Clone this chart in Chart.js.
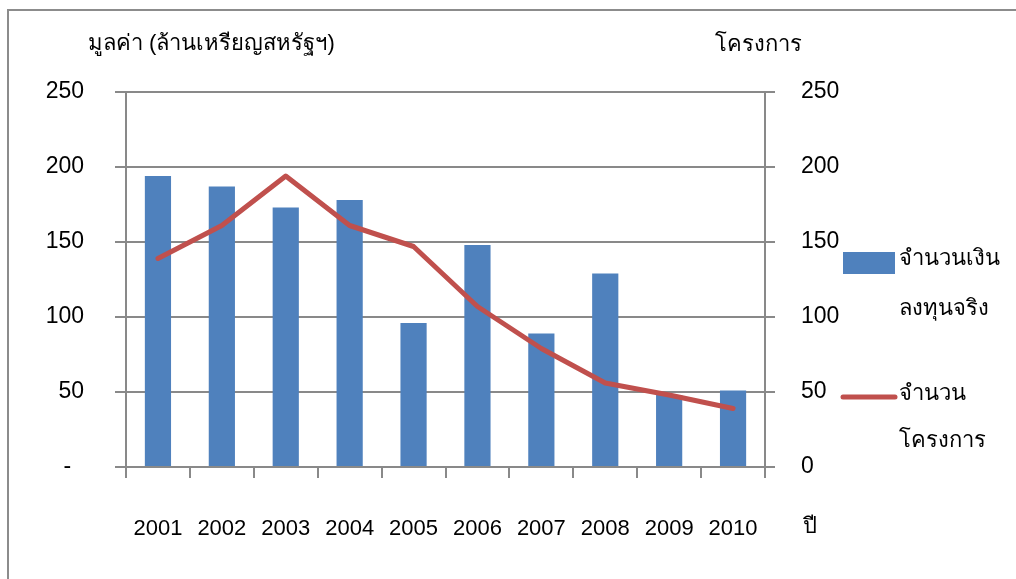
<!DOCTYPE html>
<html lang="th">
<head>
  <meta charset="UTF-8" />
  <title>มูลค่าการลงทุนและจำนวนโครงการ</title>
  <style>
    body {
      margin: 0;
      background: #fff;
      overflow: hidden;
    }

    .frame {
      position: absolute;
      left: 7px;
      top: 9px;
      width: 1100px;
      height: 700px;
      border: 2px solid #8c8c8c;
    }

    .wrap {
      position: absolute;
      left: 0;
      top: 0;
      width: 1016px;
      height: 579px;
    }
  </style>
</head>
<body>
  <div class="frame"></div>
  <div class="wrap"><canvas id="chart" width="1016" height="579"></canvas></div>

  <script src="https://cdn.jsdelivr.net/npm/chart.js"></script>
  <script>
    const years = ['2001', '2002', '2003', '2004', '2005', '2006', '2007', '2008', '2009', '2010'];
    const investValues = [194, 187, 173, 178, 96, 148, 89, 129, 48, 51];
    const projectCounts = [139, 161, 194, 161, 147, 107, 79, 56, 48, 39];
    const yTicks = [0, 50, 100, 150, 200, 250];

    const investLabel = ['จำนวนเงิน', 'ลงทุนจริง'];
    const projectLabel = ['จำนวน', 'โครงการ'];
    const leftTitle = 'มูลค่า (ล้านเหรียญสหรัฐฯ)';
    const rightTitle = 'โครงการ';
    const xTitle = 'ปี';

    const FONT = '"Liberation Sans", Arial, sans-serif';
    const axisGray = '#898989';

    // titles and the two-line legend are drawn by hand
    const extras = {
      id: 'extras',
      afterDraw(chart) {
        const c = chart.ctx;
        c.save();
        c.fillStyle = '#000';
        c.font = '22px ' + FONT;
        c.textBaseline = 'middle';
        c.textAlign = 'left';
        c.fillText(leftTitle, 88, 44);
        c.fillText(rightTitle, 715, 45);
        c.fillText(xTitle, 803, 527);

        // legend
        const bars = chart.data.datasets.find((d) => d.type === 'bar');
        const line = chart.data.datasets.find((d) => d.type === 'line');
        c.fillStyle = bars.backgroundColor;
        c.fillRect(843, 252, 52, 22);
        c.strokeStyle = line.borderColor;
        c.lineWidth = 5;
        c.lineCap = 'round';
        c.beginPath();
        c.moveTo(843, 397);
        c.lineTo(895, 397);
        c.stroke();

        c.fillStyle = '#000';
        bars.label.forEach((t, i) => c.fillText(t, 899, 259 + i * 50));
        line.label.forEach((t, i) => c.fillText(t, 899, 394 + i * 47));
        c.restore();
      }
    };

    new Chart(document.getElementById('chart'), {
      data: {
        labels: years,
        datasets: [
          {
            type: 'line',
            label: projectLabel,
            data: projectCounts,
            yAxisID: 'yRight',
            borderColor: '#C0504D',
            backgroundColor: '#C0504D',
            borderWidth: 5,
            borderCapStyle: 'round',
            borderJoinStyle: 'round',
            pointRadius: 0,
            tension: 0,
            order: 0
          },
          {
            type: 'bar',
            label: investLabel,
            data: investValues,
            yAxisID: 'yLeft',
            backgroundColor: '#4F81BD',
            categoryPercentage: 1,
            barPercentage: 0.41,
            order: 1
          }
        ]
      },
      options: {
        responsive: false,
        animation: false,
        layout: { padding: { top: 92, left: 0, right: 0, bottom: 0 } },
        plugins: {
          legend: { display: false },
          tooltip: { enabled: false }
        },
        scales: {
          x: {
            offset: true,
            afterFit: (s) => { s.height = 112; },
            grid: {
              offset: true,
              drawOnChartArea: false,
              color: axisGray,
              lineWidth: 2,
              tickLength: 11
            },
            border: { color: axisGray, width: 2 },
            ticks: {
              color: '#000',
              font: { family: FONT, size: 22 },
              padding: 38,
              maxRotation: 0
            }
          },
          yLeft: {
            position: 'left',
            min: 0,
            max: 250,
            afterFit: (s) => { s.width = 126; },
            afterBuildTicks: (s) => { s.ticks = yTicks.map((v) => ({ value: v })); },
            grid: {
              color: axisGray,
              lineWidth: 2,
              tickLength: 11
            },
            border: { color: axisGray, width: 2 },
            ticks: {
              color: '#000',
              font: { family: FONT, size: 23 },
              padding: 31,
              callback: (v) => (v === 0 ? '-  ' : v)
            }
          },
          yRight: {
            position: 'right',
            min: 0,
            max: 250,
            afterFit: (s) => { s.width = 251; },
            afterBuildTicks: (s) => { s.ticks = yTicks.map((v) => ({ value: v })); },
            grid: {
              drawOnChartArea: false,
              color: axisGray,
              lineWidth: 2,
              tickLength: 10
            },
            border: { color: axisGray, width: 2 },
            ticks: {
              color: '#000',
              font: { family: FONT, size: 23 },
              padding: 26
            }
          }
        }
      },
      plugins: [extras]
    });
  </script>
</body>
</html>
